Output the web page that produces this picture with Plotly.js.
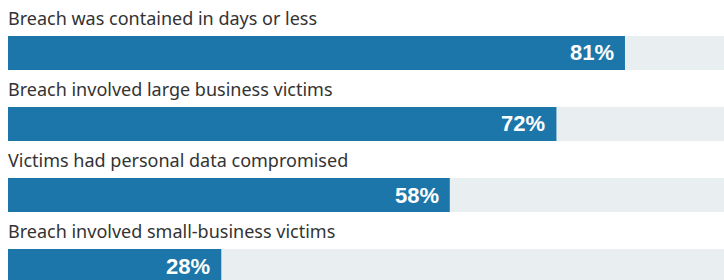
<!DOCTYPE html>
<html>
<head>
<meta charset="utf-8">
<script src="https://cdn.plot.ly/plotly-3.0.1.min.js"></script>
<style>html,body{margin:0;padding:0;background:#fff;}#chart{width:724px;height:280px;}</style>
</head>
<body>
<div id="chart"></div>
<script>
var categories = [
  "Breach was contained in days or less",
  "Breach involved large business victims",
  "Victims had personal data compromised",
  "Breach involved small-business victims"
];
var values = [81, 72, 58, 28];
var valueLabels = ["81%", "72%", "58%", "28%"];
var trackValues = [100, 100, 100, 100];

var barColor = "#1c76a9";
var trackColor = "#e9eef1";

var track = {
  type: "bar", orientation: "h",
  x: trackValues, y: categories,
  width: 0.48,
  marker: {color: trackColor},
  hoverinfo: "skip"
};
var bars = {
  type: "bar", orientation: "h",
  x: values, y: categories,
  width: 0.48,
  marker: {color: barColor},
  hoverinfo: "skip"
};

var annotations = [];
categories.forEach(function (c, i) {
  annotations.push({
    xref: "paper", yref: "y", x: 0, y: c,
    xanchor: "left", yanchor: "middle",
    xshift: -2, yshift: 35, showarrow: false, text: c,
    font: {family: "Noto Sans, Open Sans, sans-serif", size: 18, color: "#333333"}
  });
  annotations.push({
    xref: "x", yref: "y", x: values[i], y: c,
    xanchor: "right", yanchor: "middle",
    xshift: -9, yshift: 0, showarrow: false, text: "<b>" + valueLabels[i] + "</b>",
    font: {family: "Liberation Sans, Arial, sans-serif", size: 22, color: "#ffffff"}
  });
});

var layout = {
  width: 724, height: 280,
  margin: {l: 8, r: 0, t: 0, b: 0, pad: 0},
  paper_bgcolor: "#ffffff", plot_bgcolor: "#ffffff",
  barmode: "overlay",
  showlegend: false,
  xaxis: {range: [0, 94], showgrid: false, zeroline: false, showticklabels: false, ticks: "", fixedrange: true},
  yaxis: {type: "category", range: [3.197, -0.746], showgrid: false, zeroline: false, showticklabels: false, ticks: "", fixedrange: true},
  annotations: annotations
};

Plotly.newPlot("chart", [track, bars], layout, {displayModeBar: false, staticPlot: true});
</script>
</body>
</html>
